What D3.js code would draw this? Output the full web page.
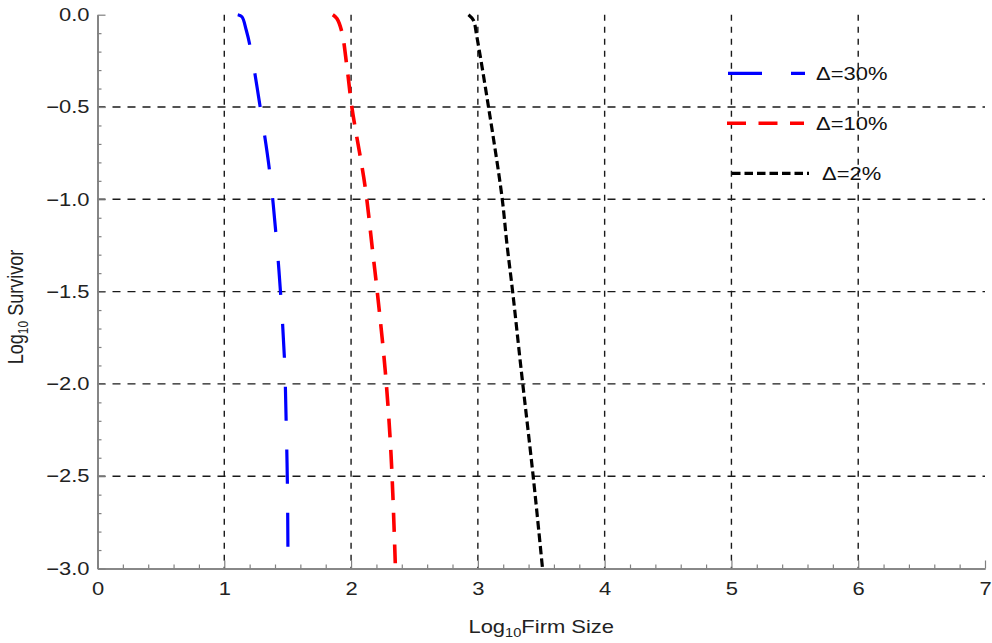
<!DOCTYPE html>
<html>
<head>
<meta charset="utf-8">
<script src="https://cdn.jsdelivr.net/npm/d3@7"></script>
<style>
  html, body { margin: 0; padding: 0; background: #fff; }
  svg { display: block; font-family: "Liberation Sans", Arial, sans-serif; }
</style>
</head>
<body>
<svg id="chart" width="992" height="643"></svg>
<script>
// ---- Data ----
const seriesNames = ["Δ=30%", "Δ=10%", "Δ=2%"];
const logSize30 = [1.106, 1.139, 1.173, 1.204, 1.283, 1.357, 1.407, 1.446, 1.475, 1.488, 1.498, 1.502];
const logSurv30 = [0, -0.011, -0.083, -0.173, -0.5, -0.845, -1.184, -1.528, -1.871, -2.205, -2.553, -2.9];
const logSize10 = [1.856, 1.888, 1.927, 1.967, 2.006, 2.111, 2.169, 2.208, 2.269, 2.308, 2.329, 2.350];
const logSurv10 = [0, -0.02, -0.092, -0.28, -0.5, -0.932, -1.275, -1.51, -1.925, -2.295, -2.593, -3.0];
const logSize2 = [2.926, 2.965, 2.992, 3.084, 3.19, 3.229, 3.276, 3.339, 3.438, 3.51];
const logSurv2 = [0, -0.03, -0.119, -0.5, -0.986, -1.24, -1.51, -1.907, -2.511, -3.0];
const xTicks = [0, 1, 2, 3, 4, 5, 6, 7];
const yTicks = [0, -0.5, -1.0, -1.5, -2.0, -2.5, -3.0];
const xGrid = [1, 2, 3, 4, 5, 6];
const yGrid = [-0.5, -1.0, -1.5, -2.0, -2.5];

// ---- Layout ----
const svg = d3.select("#chart");
const mLeft = 97.5, mRight = 985, mTop = 14.7, mBottom = 568.5;
const SX = 1.22; // horizontal stretch of the reference's text
const FS = 18;
const x = d3.scaleLinear().domain([0, 7]).range([mLeft, mRight]);
const y = d3.scaleLinear().domain([-3, 0]).range([mBottom, mTop]);

// grid lines
const grid = svg.append("g");
grid.selectAll("line.vg").data(xGrid).enter().append("line")
  .attr("x1", d => x(d)).attr("x2", d => x(d))
  .attr("y1", y(0)).attr("y2", y(-3))
  .attr("stroke", "#1a1a1a").attr("stroke-width", 1.4)
  .attr("stroke-dasharray", "6,6");
grid.selectAll("line.hg").data(yGrid).enter().append("line")
  .attr("x1", x(0)).attr("x2", x(7))
  .attr("y1", d => y(d)).attr("y2", d => y(d))
  .attr("stroke", "#1a1a1a").attr("stroke-width", 1.4)
  .attr("stroke-dasharray", "8,7");

// axes
const axisColor = "#808080";
const xAxis = d3.axisBottom(x).tickValues(xTicks).tickFormat(d3.format("d")).tickSizeInner(-8).tickSizeOuter(0).tickPadding(14);
const xMinor = d3.axisBottom(x).tickValues(d3.range(0, 7.001, 0.2).filter(v => Math.abs(v - Math.round(v)) > 1e-6)).tickFormat("").tickSizeInner(-4).tickSizeOuter(0);
const fmtY = d => d === 0 ? "0.0" : "\u2212" + d3.format(".1f")(-d);
const yAxis = d3.axisLeft(y).tickValues(yTicks).tickFormat(fmtY).tickSizeInner(-8).tickSizeOuter(0).tickPadding(8);
const yMinor = d3.axisLeft(y).tickValues(d3.range(-3, 0.001, 0.1).filter(v => Math.abs(v * 2 - Math.round(v * 2)) > 1e-6)).tickFormat("").tickSizeInner(-4).tickSizeOuter(0);

function styleAxis(g) {
  g.select(".domain").attr("stroke", axisColor).attr("stroke-width", 1.6);
  g.selectAll(".tick line").attr("stroke", axisColor).attr("stroke-width", 1.2);
  g.selectAll("text").attr("fill", "#222").style("font-size", FS + "px")
    .style("font-family", "'Liberation Sans', Arial, sans-serif")
    .attr("x", function() { return (+d3.select(this).attr("x") || 0) / SX; })
    .attr("transform", `scale(${SX},1)`);
}
svg.append("g").attr("transform", `translate(0,${mBottom})`).call(xMinor).call(styleAxis);
svg.append("g").attr("transform", `translate(0,${mBottom})`).call(xAxis).call(styleAxis);
svg.append("g").attr("transform", `translate(${mLeft},0)`).call(yMinor).call(styleAxis);
svg.append("g").attr("transform", `translate(${mLeft},0)`).call(yAxis).call(styleAxis);

// axis titles
const xt = svg.append("text").attr("transform", `translate(${x(3.5)},633) scale(${SX},1)`).attr("text-anchor", "middle")
  .style("font-size", FS + "px").attr("fill", "#222");
xt.append("tspan").text("Log");
xt.append("tspan").text("10").style("font-size", "12px").attr("dy", 4);
xt.append("tspan").text("Firm Size").attr("dy", -4);

const yt = svg.append("text").attr("transform", `translate(23,307) scale(${SX},1) rotate(-90)`).attr("text-anchor", "middle")
  .style("font-size", FS + "px").attr("fill", "#222");
yt.append("tspan").text("Log");
yt.append("tspan").text("10").style("font-size", "12px").attr("dy", 4);
yt.append("tspan").text(" Survivor").attr("dy", -4);

// curves
const series = [
  { name: seriesNames[0], xs: logSize30, ys: logSurv30, color: "#0000ff", dash: "34,29", width: 3.2 },
  { name: seriesNames[1], xs: logSize10, ys: logSurv10, color: "#ff0000", dash: "19,12.5", width: 3.6 },
  { name: seriesNames[2], xs: logSize2,  ys: logSurv2,  color: "#000000", dash: "8.5,4", width: 3.2 }
];
const line = d3.line().x(d => x(d[0])).y(d => y(d[1])).curve(d3.curveCatmullRom.alpha(0.5));
series.forEach(s => {
  const pts = s.xs.map((v, i) => [v, s.ys[i]]);
  svg.append("path").datum(pts).attr("d", line)
    .attr("fill", "none").attr("stroke", s.color).attr("stroke-width", s.width)
    .attr("stroke-dasharray", s.dash).attr("stroke-linecap", "butt");
});

// legend
const legendY = [73.3, 123.3, 173.3];
const legendX0 = [728, 727, 732];
const legendTextX = [816, 816, 822];
series.forEach((s, i) => {
  svg.append("line").attr("x1", legendX0[i]).attr("x2", legendX0[i] + 77)
    .attr("y1", legendY[i]).attr("y2", legendY[i])
    .attr("stroke", s.color).attr("stroke-width", s.width).attr("stroke-dasharray", s.dash);
  svg.append("text").attr("transform", `translate(${legendTextX[i]},${legendY[i] + 6.5}) scale(${SX},1)`)
    .style("font-size", FS + "px").attr("fill", "#111").text(s.name);
});
</script>
</body>
</html>
